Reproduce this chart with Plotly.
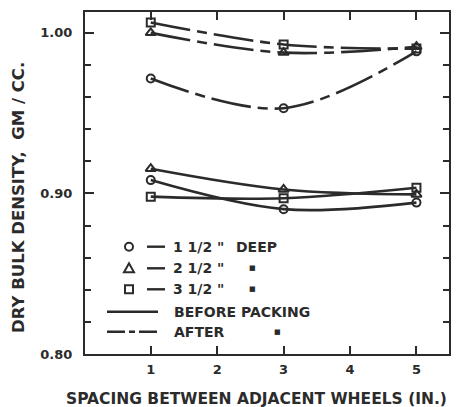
import plotly.graph_objects as go

# ---- data ----
spacing = [1, 3, 5]
before_15 = [0.9083, 0.8902, 0.8943]
before_25 = [0.9154, 0.9025, 0.8994]
before_35 = [0.8980, 0.8970, 0.9035]
after_15 = [0.9716, 0.9531, 0.9885]
after_25 = [1.0000, 0.9877, 0.9914]
after_35 = [1.0065, 0.9928, 0.9902]

x_ticks = [1, 2, 3, 4, 5]
x_tick_labels = ["1", "2", "3", "4", "5"]
y_ticks = [0.80, 0.90, 1.00]
y_tick_labels = ["0.80", "0.90", "1.00"]

INK = "#2b2b2b"
FONT = "DejaVu Sans"

# the page body has an 8px margin; size the figure so it fills the window
OFF = 8
W, H = 460 - OFF, 407 - OFF
L, R, T, B = 85 - OFF, 11, 12 - OFF, 53
PW, PH = W - L - R, H - T - B


def px(xp):
    return (xp - OFF - L) / PW


def py(yp):
    return (H - B - (yp - OFF)) / PH


AFTER_DASH = "40px,7px,10px,7px"

fig = go.Figure()

series = [
    (before_15, "circle-open", "solid", 8),
    (before_25, "triangle-up-open", "solid", 9),
    (before_35, "square-open", "solid", 8),
    (after_15, "circle-open", AFTER_DASH, 8),
    (after_25, "triangle-up-open", AFTER_DASH, 9),
    (after_35, "square-open", AFTER_DASH, 8),
]
for vals, sym, dash, size in series:
    fig.add_trace(go.Scatter(
        x=spacing, y=vals, mode="lines",
        line=dict(color=INK, width=2.6, shape="spline", smoothing=1.0, dash=dash),
        showlegend=False, hoverinfo="skip"))
for vals, sym, dash, size in series:
    fig.add_trace(go.Scatter(
        x=spacing, y=vals, mode="markers",
        marker=dict(symbol=sym, size=size, color=INK, line=dict(color=INK, width=2)),
        showlegend=False, hoverinfo="skip"))

axis_common = dict(
    showgrid=False, zeroline=False, showline=True, linecolor=INK, linewidth=2,
    mirror="ticks", ticks="inside", tickcolor=INK, tickwidth=2, automargin=False,
    tickfont=dict(family=FONT, size=13, color=INK, weight="bold"),
)

fig.update_xaxes(range=[0.01, 5.49], tickvals=x_ticks, ticktext=x_tick_labels,
                 ticklen=8, ticklabelstandoff=2, **axis_common)
fig.update_yaxes(range=[0.8, 1.013], tickvals=y_ticks, ticktext=y_tick_labels,
                 ticklen=9, ticklabelstandoff=8,
                 minor=dict(dtick=0.02, tick0=0.8, ticks="inside", ticklen=6,
                            tickwidth=2, tickcolor=INK, showgrid=False),
                 **axis_common)

shapes = []
annotations = []

# axis titles
annotations.append(dict(text="SPACING BETWEEN ADJACENT WHEELS (IN.)", xref="paper", yref="paper",
                        x=px(256), y=py(399), xanchor="center", yanchor="middle", showarrow=False,
                        font=dict(family=FONT, size=15.5, color=INK, weight="bold")))
annotations.append(dict(text="DRY BULK DENSITY,  GM / CC.", xref="paper", yref="paper",
                        x=px(18), y=py(198), xanchor="center", yanchor="middle", showarrow=False,
                        textangle=-90,
                        font=dict(family=FONT, size=16.5, color=INK, weight="bold")))

lf = dict(family=FONT, size=14, color=INK, weight="bold")
rows = [246.7, 268.3, 289.3]
# symbols
cx = 129
r = 4
shapes.append(dict(type="circle", xref="paper", yref="paper",
                   x0=px(cx - r), x1=px(cx + r), y0=py(rows[0] + r), y1=py(rows[0] - r),
                   line=dict(color=INK, width=2)))
ty = rows[1]
shapes.append(dict(type="path", xref="paper", yref="paper",
                   path=f"M {px(cx-5)},{py(ty+4)} L {px(cx+5)},{py(ty+4)} L {px(cx)},{py(ty-5)} Z",
                   line=dict(color=INK, width=2)))
sy = rows[2]
shapes.append(dict(type="rect", xref="paper", yref="paper",
                   x0=px(cx - 4), x1=px(cx + 4), y0=py(sy + 4), y1=py(sy - 4),
                   line=dict(color=INK, width=2)))
for ry in rows:
    shapes.append(dict(type="line", xref="paper", yref="paper",
                       x0=px(147), x1=px(165), y0=py(ry), y1=py(ry),
                       line=dict(color=INK, width=2.4)))
labels = [("1 1/2 \"", "DEEP"), ("2 1/2 \"", "■"), ("3 1/2 \"", "■")]
for ry, (a, b) in zip(rows, labels):
    annotations.append(dict(text=a, xref="paper", yref="paper", x=px(171), y=py(ry),
                            xanchor="left", yanchor="middle", showarrow=False, font=lf))
    if b == "DEEP":
        annotations.append(dict(text=b, xref="paper", yref="paper", x=px(234), y=py(ry),
                                xanchor="left", yanchor="middle", showarrow=False, font=lf))
    else:
        annotations.append(dict(text=b, xref="paper", yref="paper", x=px(252), y=py(ry),
                                xanchor="center", yanchor="middle", showarrow=False,
                                font=dict(family=FONT, size=7, color=INK)))

shapes.append(dict(type="line", xref="paper", yref="paper",
                   x0=px(107), x1=px(158), y0=py(311.7), y1=py(311.7),
                   line=dict(color=INK, width=2.6)))
shapes.append(dict(type="line", xref="paper", yref="paper",
                   x0=px(107), x1=px(158), y0=py(331.7), y1=py(331.7),
                   line=dict(color=INK, width=2.6, dash="18px,4px,6px,4px")))
annotations.append(dict(text="BEFORE PACKING", xref="paper", yref="paper", x=px(172), y=py(311.7),
                        xanchor="left", yanchor="middle", showarrow=False, font=lf))
annotations.append(dict(text="AFTER", xref="paper", yref="paper", x=px(172), y=py(331.7),
                        xanchor="left", yanchor="middle", showarrow=False, font=lf))
annotations.append(dict(text="■", xref="paper", yref="paper", x=px(277), y=py(331.7),
                        xanchor="center", yanchor="middle", showarrow=False,
                        font=dict(family=FONT, size=7, color=INK)))

fig.update_layout(
    width=W, height=H,
    margin=dict(l=L, r=R, t=T, b=B),
    paper_bgcolor="white", plot_bgcolor="white",
    shapes=shapes, annotations=annotations,
    font=dict(family=FONT, color=INK),
)

fig.write_html("out.html")
